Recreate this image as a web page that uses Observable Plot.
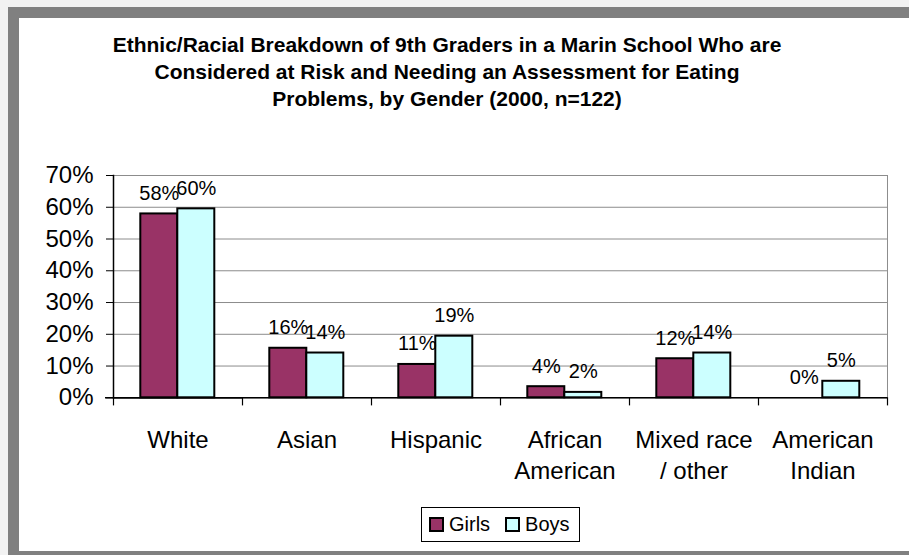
<!DOCTYPE html>
<html><head><meta charset="utf-8">
<script src="https://cdn.jsdelivr.net/npm/d3@7"></script>
<script src="https://cdn.jsdelivr.net/npm/@observablehq/plot@0.6"></script>
<style>
html,body{margin:0;padding:0;}
body{width:909px;height:555px;background:#f2f2f2;position:relative;overflow:hidden;font-family:"Liberation Sans",Arial,sans-serif;}
#frame{position:absolute;left:8px;top:7px;width:901px;height:548px;background:#808080;}
#panel{position:absolute;left:19px;top:18px;width:890px;height:533px;background:#fff;}
#title{position:absolute;left:19px;width:856px;top:31px;text-align:center;font-weight:bold;font-size:21px;line-height:27px;color:#000;}
#chart{position:absolute;left:19px;top:150px;}
#legend{position:absolute;left:421px;top:507px;width:159px;height:35px;box-sizing:border-box;border:1px solid #000;background:#fff;display:flex;align-items:center;padding-left:7px;font-size:20px;color:#000;}
#legend .sw{display:inline-block;width:15px;height:15px;box-sizing:border-box;border:2px solid #000;margin-right:5px;}
#legend .lab{margin-right:15px;}
#legend .lab:last-child{margin-right:0;}
</style>
</head><body>
<div id="frame"></div>
<div id="panel"></div>
<div id="title">Ethnic/Racial Breakdown of 9th Graders in a Marin School Who are<br>Considered at Risk and Needing an Assessment for Eating<br>Problems, by Gender (2000, n=122)</div>
<div id="chart"></div>
<div id="legend"></div>
<script>
const categories = ["White","Asian","Hispanic","African American","Mixed race / other","American Indian"];
const categoryLabels = ["White","Asian","Hispanic","African\nAmerican","Mixed race\n/ other","American\nIndian"];
const series = ["Girls","Boys"];
const seriesColors = ["#993366","#CCFFFF"];
const girls = [57.9, 15.6, 10.5, 3.5, 12.3, 0];
const boys = [59.5, 14.1, 19.4, 1.7, 14.1, 5.2];
const yTicks = [0,10,20,30,40,50,60,70];

const data = categories.flatMap((c,i)=>[
  {category:c, gender:"Girls", value:girls[i]},
  {category:c, gender:"Boys", value:boys[i]}
]);

const W=890, H=340, mL=92.7, mR=20, mT=25, mB=92.7;
const plotH = H-mT-mB;

const chart = Plot.plot({
  width: W, height: H, marginLeft: mL, marginRight: mR, marginTop: mT, marginBottom: mB,
  style: {fontFamily: "'Liberation Sans', Arial, sans-serif", background: "transparent", overflow: "visible", color: "#000"},
  fx: {domain: categories, padding: 0, label: null, axis: null},
  x: {domain: series, paddingInner: 0, paddingOuter: 0.736, axis: null},
  y: {domain: [0,70], label: null},
  color: {domain: series, range: seriesColors},
  marks: [
    Plot.gridY(yTicks, {stroke:"#8c8c8c", strokeOpacity:1}),
    Plot.frame({anchor:"right", facetAnchor:"right", stroke:"#8c8c8c"}),
    Plot.barY(data, {fx:"category", x:"gender", y:"value", fill:"gender", stroke:"#000", strokeWidth:2}),
    Plot.text(data, {fx:"category", x:"gender", y:"value", text: d=>Math.round(d.value)+"%", lineAnchor:"bottom", dy:-14, fontSize:20, fill:"#000"}),
    Plot.ruleY([0], {stroke:"#000", strokeWidth:1.5}),
    Plot.ruleY([0], {facetAnchor:"left", insetLeft:-8, stroke:"#000", strokeWidth:1.5}),
    Plot.frame({anchor:"left", facetAnchor:"left", stroke:"#000", strokeWidth:1.5}),
    Plot.frame({anchor:"left", insetTop: plotH, insetBottom:-7, stroke:"#000", strokeWidth:1.2}),
    Plot.frame({anchor:"right", facetAnchor:"right", insetTop: plotH, insetBottom:-7, stroke:"#000", strokeWidth:1.2}),
    Plot.axisY(yTicks, {tickSize:7, tickPadding:13, fontSize:24, tickFormat:d=>d+"%", label:null, stroke:"#000"}),
    Plot.axisFx({anchor:"bottom", tickSize:0, tickPadding:28, fontSize:24, lineHeight:1.29, tickFormat:c=>categoryLabels[categories.indexOf(c)], label:null})
  ]
});
document.getElementById("chart").appendChild(chart);

const legend = document.getElementById("legend");
series.forEach((s,i)=>{
  const sw = document.createElement("span"); sw.className="sw"; sw.style.background=seriesColors[i];
  const lab = document.createElement("span"); lab.className="lab"; lab.textContent=s;
  legend.appendChild(sw); legend.appendChild(lab);
});
</script>
</body></html>
